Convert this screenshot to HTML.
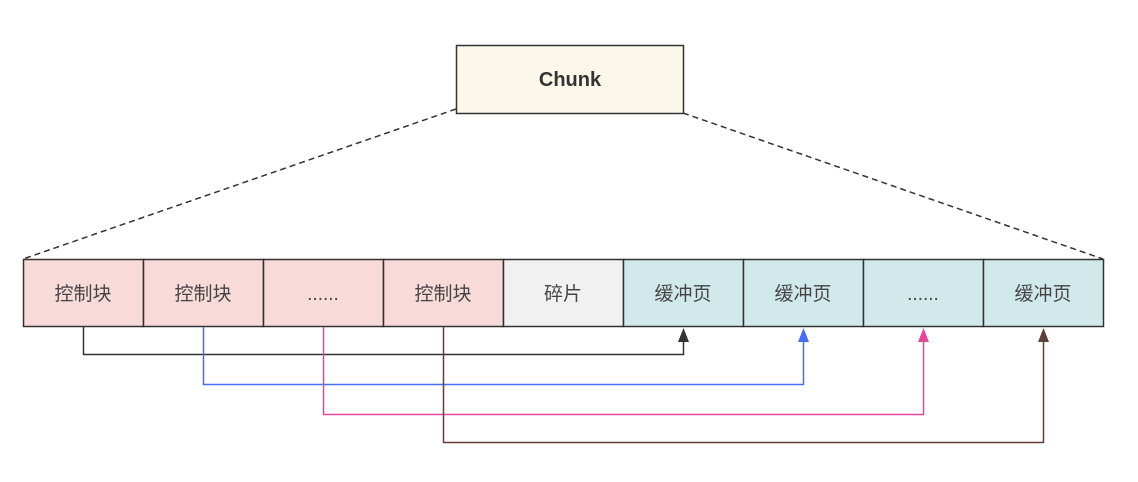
<!DOCTYPE html>
<html><head><meta charset="utf-8"><style>
body{margin:0;background:#fff;}
svg text{font-family:"Liberation Sans","Noto Sans CJK SC",sans-serif;}
</style></head><body>
<svg width="1138" height="477" viewBox="0 0 1138 477" xmlns="http://www.w3.org/2000/svg">
<line x1="456" y1="109" x2="23" y2="259" stroke="#333" stroke-width="1.5" stroke-dasharray="6,4"/>
<line x1="683" y1="113" x2="1103" y2="259" stroke="#333" stroke-width="1.5" stroke-dasharray="6,4"/>
<rect x="456.5" y="45.5" width="227" height="68" fill="#fbf8ea" stroke="#333" stroke-width="1.5"/>
<text x="570" y="86" text-anchor="middle" font-size="20" font-weight="bold" fill="#333">Chunk</text>
<g stroke="#333" stroke-width="1.5">
<rect x="23.5" y="259.5" width="120" height="67" fill="#f8dbd9"/>
<rect x="143.5" y="259.5" width="120" height="67" fill="#f8dbd9"/>
<rect x="263.5" y="259.5" width="120" height="67" fill="#f8dbd9"/>
<rect x="383.5" y="259.5" width="120" height="67" fill="#f8dbd9"/>
<rect x="503.5" y="259.5" width="120" height="67" fill="#f1f1f1"/>
<rect x="623.5" y="259.5" width="120" height="67" fill="#d2e9eb"/>
<rect x="743.5" y="259.5" width="120" height="67" fill="#d2e9eb"/>
<rect x="863.5" y="259.5" width="120" height="67" fill="#d2e9eb"/>
<rect x="983.5" y="259.5" width="120" height="67" fill="#d2e9eb"/>
</g>
<g font-size="19" fill="#444" text-anchor="middle">
<text x="83" y="300">控制块</text>
<text x="203" y="300">控制块</text>
<text x="323" y="300">......</text>
<text x="443" y="300">控制块</text>
<text x="563" y="300">碎片</text>
<text x="683" y="300">缓冲页</text>
<text x="803" y="300">缓冲页</text>
<text x="923" y="300">......</text>
<text x="1043" y="300">缓冲页</text>
</g>
<g fill="none" stroke-width="1.5">
<polyline points="83.5,327 83.5,354.5 683.5,354.5 683.5,334" stroke="#333"/>
<polyline points="203.5,327 203.5,384.5 803.5,384.5 803.5,334" stroke="#4a6cf0"/>
<polyline points="323.5,327 323.5,414.5 923.5,414.5 923.5,334" stroke="#e0489a"/>
<polyline points="443.5,327 443.5,442.5 1043.5,442.5 1043.5,334" stroke="#5d4037"/>
</g>
<path d="M678,342 L683.5,328 L689,342 Z" fill="#333"/>
<path d="M798,342 L803.5,328 L809,342 Z" fill="#4a6cf0"/>
<path d="M918,342 L923.5,328 L929,342 Z" fill="#e0489a"/>
<path d="M1038,342 L1043.5,328 L1049,342 Z" fill="#5d4037"/>
</svg>
</body></html>
